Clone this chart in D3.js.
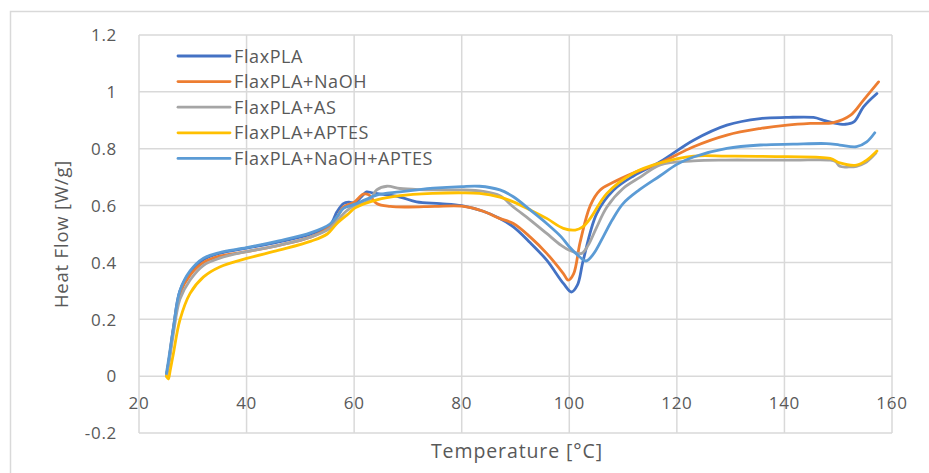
<!DOCTYPE html>
<html><head><meta charset="utf-8">
<script src="https://cdn.jsdelivr.net/npm/d3@7/dist/d3.min.js"></script>
<style>
html,body{margin:0;padding:0;background:#fff;}
svg text{font-family:"Open Sans",sans-serif;fill:#595959;}
</style></head>
<body><svg id="c" width="929" height="473"></svg>
<script>
const seriesNames = ["FlaxPLA","FlaxPLA+NaOH","FlaxPLA+AS","FlaxPLA+APTES","FlaxPLA+NaOH+APTES"];
const seriesColors = ["#4472C4","#ED7D31","#A5A5A5","#FFC000","#5B9BD5"];
const xTicks = [20,40,60,80,100,120,140,160];
const yTicks = [-0.2,0,0.2,0.4,0.6,0.8,1,1.2];
const yTickLabels = ["-0.2","0","0.2","0.4","0.6","0.8","1","1.2"];

const flaxPLA = [[25.1,0.0],[25.6,0.06],[26.4,0.17],[27.6,0.30],[29.5,0.365],[32,0.41],[35,0.432],[40,0.45],[46,0.472],[52,0.50],[55.5,0.531],[56.8,0.578],[58,0.607],[59,0.612],[60.2,0.61],[61.3,0.63],[62.3,0.648],[63.3,0.645],[65,0.64],[68.5,0.63],[71.6,0.613],[76,0.607],[80,0.6],[84,0.58],[87,0.555],[89.6,0.525],[92.7,0.47],[95.8,0.408],[98.9,0.326],[100.4,0.296],[101.5,0.32],[102.6,0.408],[105.1,0.572],[108.2,0.654],[112,0.705],[116.9,0.754],[123.1,0.83],[129.3,0.883],[135.5,0.906],[140.3,0.91],[145.4,0.91],[147.3,0.90],[149.1,0.891],[151.3,0.886],[152.9,0.894],[154.7,0.947],[157.2,0.994]];
const flaxNaOH = [[25.1,0.0],[25.6,0.06],[26.4,0.165],[27.6,0.29],[29.5,0.355],[32,0.40],[35,0.422],[40,0.438],[46,0.46],[52,0.49],[55.5,0.525],[57,0.565],[58,0.595],[60,0.612],[61.7,0.640],[62.7,0.638],[64.2,0.607],[66.7,0.597],[70,0.595],[75,0.597],[80,0.598],[84,0.58],[87,0.555],[89.6,0.537],[92.7,0.49],[95.8,0.432],[98.9,0.361],[99.8,0.338],[100.8,0.36],[102,0.47],[103.9,0.60],[105.7,0.654],[108,0.68],[112,0.715],[116.9,0.75],[123.1,0.807],[129.3,0.848],[135.5,0.871],[140.5,0.883],[144.8,0.889],[149.1,0.892],[152.3,0.918],[154.7,0.971],[157.5,1.035]];
const flaxAS = [[25.1,0.0],[25.6,0.05],[26.4,0.15],[27.6,0.27],[29.5,0.338],[32,0.39],[35,0.415],[40,0.438],[46,0.46],[52,0.49],[55.5,0.52],[57,0.55],[58.5,0.58],[60.2,0.601],[62.3,0.613],[63.3,0.63],[64.2,0.655],[66.1,0.668],[68.5,0.66],[72,0.656],[76,0.655],[80,0.655],[84,0.65],[87.1,0.635],[89.6,0.595],[92.7,0.55],[95.8,0.502],[98.5,0.46],[100,0.443],[102.3,0.432],[103.5,0.46],[105,0.52],[107,0.595],[110,0.66],[113.2,0.70],[116.9,0.743],[123.1,0.757],[129,0.76],[135.5,0.76],[142,0.76],[148.5,0.76],[149.5,0.755],[150.3,0.738],[152,0.736],[153.4,0.738],[155,0.75],[157,0.785]];
const flaxAPTES = [[25.1,0.0],[25.45,-0.01],[25.8,0.02],[26.4,0.08],[27.6,0.197],[29.5,0.291],[32,0.349],[35,0.384],[40,0.414],[46,0.443],[52,0.475],[55,0.50],[56.8,0.537],[59,0.572],[60.2,0.592],[64.2,0.62],[68.5,0.635],[74.7,0.643],[80,0.645],[83.3,0.643],[87.1,0.63],[89.6,0.613],[92.7,0.585],[95.8,0.555],[98.9,0.52],[101.1,0.514],[102.5,0.525],[103.9,0.555],[107,0.643],[111.9,0.714],[116.9,0.75],[123.1,0.774],[129.3,0.774],[140.5,0.772],[148.5,0.766],[150.3,0.75],[153.4,0.742],[155.3,0.76],[157.2,0.792]];
const flaxNaOHAPTES = [[25.1,0.01],[25.6,0.07],[26.4,0.17],[27.6,0.30],[29.5,0.37],[32,0.415],[35,0.435],[40,0.452],[46,0.476],[52,0.505],[55.5,0.535],[57,0.565],[58,0.59],[60.2,0.605],[62,0.62],[64.2,0.637],[68.5,0.648],[74.7,0.661],[80,0.667],[83.3,0.668],[87.1,0.655],[89.6,0.631],[92.7,0.585],[95.8,0.537],[98.5,0.49],[100,0.455],[101.9,0.42],[103.1,0.405],[104.5,0.43],[106.3,0.49],[108,0.55],[110,0.607],[113,0.655],[116.9,0.705],[120,0.745],[123.1,0.771],[129.3,0.801],[135.5,0.813],[141.6,0.816],[147.8,0.818],[150.3,0.813],[153.4,0.807],[155.3,0.824],[156.8,0.856]];
const seriesData = [flaxPLA, flaxNaOH, flaxAS, flaxAPTES, flaxNaOHAPTES];

const svg = d3.select("#c");
const L = 139, R = 892, T = 35, B = 433;
const x = d3.scaleLinear().domain([20,160]).range([L,R]);
const y = d3.scaleLinear().domain([-0.2,1.2]).range([B,T]);

// outer chart border
svg.append("rect").attr("x",10.5).attr("y",11.5).attr("width",940).attr("height",500)
  .attr("fill","none").attr("stroke","#d9d9d9").attr("stroke-width",1.5);

const grid = svg.append("g");
grid.selectAll("line.h").data(yTicks).join("line")
  .attr("x1",L).attr("x2",R).attr("y1",d=>y(d)).attr("y2",d=>y(d))
  .attr("stroke","#d9d9d9").attr("stroke-width",1.5);
grid.selectAll("line.v").data(xTicks).join("line")
  .attr("y1",T).attr("y2",B).attr("x1",d=>x(d)).attr("x2",d=>x(d))
  .attr("stroke","#d9d9d9").attr("stroke-width",1.5);

// y tick labels
svg.append("g").selectAll("text").data(yTicks).join("text")
  .attr("x",117).attr("y",d=>y(d)).attr("dy","0.37em").attr("text-anchor","end")
  .attr("font-size",17).attr("letter-spacing",0.7).text((d,i)=>yTickLabels[i]);
// x tick labels (axis crosses at 0)
svg.append("g").selectAll("text").data(xTicks).join("text")
  .attr("x",d=>x(d)).attr("y",y(0)+33).attr("text-anchor","middle")
  .attr("font-size",17).attr("letter-spacing",0.7).text(d=>d);

// axis titles
svg.append("text").attr("x",517).attr("y",458).attr("text-anchor","middle")
  .attr("font-size",19.5).attr("letter-spacing",0.9).text("Temperature [°C]");
svg.append("text").attr("transform",`translate(68,${(T+B)/2}) rotate(-90)`)
  .attr("text-anchor","middle").attr("font-size",18.5).attr("letter-spacing",0.8).text("Heat Flow [W/g]");

const line = d3.line().x(d=>x(d[0])).y(d=>y(d[1])).curve(d3.curveCatmullRom.alpha(0.5));
svg.append("g").selectAll("path").data(seriesData).join("path")
  .attr("d",line).attr("fill","none")
  .attr("stroke",(d,i)=>seriesColors[i]).attr("stroke-width",2.8)
  .attr("stroke-linejoin","round").attr("stroke-linecap","round");

// legend
const lg = svg.append("g").selectAll("g").data(seriesNames).join("g")
  .attr("transform",(d,i)=>`translate(178,${56+i*25.6})`);
lg.append("line").attr("x1",0).attr("x2",52).attr("stroke",(d,i)=>seriesColors[i])
  .attr("stroke-width",2.8).attr("stroke-linecap","round");
lg.append("text").attr("x",56).attr("dy","0.37em").attr("font-size",18).attr("letter-spacing",0.6).text(d=>d);
</script></body></html>
